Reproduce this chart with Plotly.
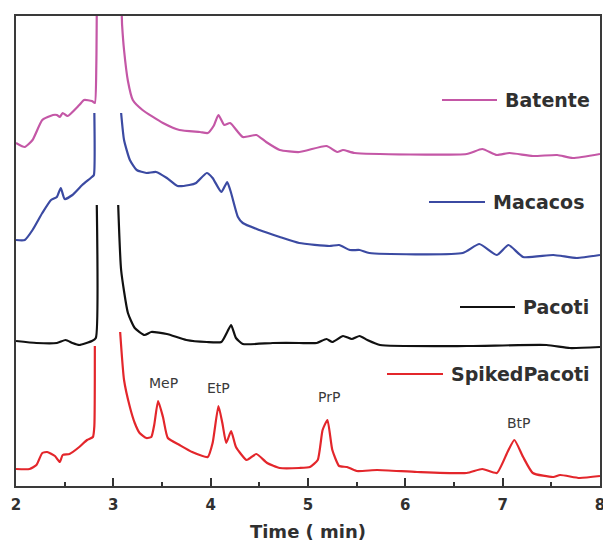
import plotly.graph_objects as go

# ---- data (time in min, detector signal in arbitrary offset units) ----
batente_t = [2.00, 2.09, 2.17, 2.27, 2.38, 2.42, 2.45, 2.48, 2.53, 2.65, 2.70, 2.78, 2.81, 2.825, 2.83,
             None,
             3.07, 3.08, 3.09, 3.11, 3.15, 3.20, 3.30, 3.51, 3.68, 3.89, 3.97, 4.03, 4.08, 4.14, 4.20,
             4.33, 4.47, 4.57, 4.71, 4.91, 5.19, 5.30, 5.36, 5.48, 6.63, 6.79, 6.94, 7.07, 7.31,
             7.56, 7.72, 8.00]
batente_y = [343, 339, 346, 366, 371, 371, 369, 373, 370, 381, 386, 385, 383, 420, 480,
             None,
             480, 480, 461, 436, 405, 386, 376, 363, 356, 354, 353, 360, 371, 361, 363,
             349, 351, 344, 336, 334, 340, 334, 336, 333, 332, 337, 331, 333, 330,
             331, 328, 332]

macacos_t = [2.00, 2.09, 2.17, 2.27, 2.36, 2.42, 2.46, 2.50, 2.58, 2.68, 2.78, 2.80, 2.805,
             None,
             3.08, 3.11, 3.17, 3.24, 3.34, 3.44, 3.55, 3.66, 3.78, 3.85, 3.96, 4.02, 4.11, 4.17,
             4.21, 4.28, 4.33, 4.50, 4.71, 4.91, 5.22, 5.32, 5.43, 5.53, 5.63, 6.59, 6.76, 6.94,
             7.06, 7.21, 7.52, 7.76, 8.00]
macacos_y = [246, 246, 256, 273, 286, 289, 298, 287, 291, 301, 309, 311, 373,
             None,
             373, 346, 326, 316, 313, 314, 308, 300, 301, 303, 313, 308, 294, 304,
             293, 269, 263, 256, 249, 243, 240, 241, 236, 236, 233, 233, 242, 231,
             241, 229, 231, 228, 231]

pacoti_t = [2.00, 2.21, 2.42, 2.51, 2.58, 2.65, 2.78, 2.82, 2.83,
            None,
            3.05, 3.08, 3.15, 3.22, 3.32, 3.39, 3.55, 3.75, 3.96, 4.11, 4.17, 4.21, 4.26, 4.33,
            4.64, 4.91, 5.09, 5.19, 5.25, 5.36, 5.45, 5.53, 5.61, 5.74, 6.63, 7.45, 7.69, 8.00]
pacoti_y = [145, 143, 143, 146, 143, 141, 145, 148, 281,
            None,
            281, 216, 173, 158, 151, 154, 152, 146, 144, 144, 154, 161, 148, 142,
            143, 143, 143, 147, 144, 150, 147, 150, 146, 141, 140, 141, 138, 139]

spiked_t = [2.00, 2.14, 2.21, 2.27, 2.32, 2.40, 2.45, 2.48, 2.55, 2.65, 2.73, 2.79, 2.805, 2.81,
            None,
            3.07, 3.11, 3.17, 3.22, 3.27, 3.34, 3.39, 3.42, 3.46, 3.51, 3.56, 3.68, 3.81, 3.97,
            4.02, 4.08, 4.12, 4.16, 4.21, 4.26, 4.37, 4.47, 4.58, 4.71, 4.91, 5.02, 5.10, 5.15,
            5.20, 5.25, 5.32, 5.40, 5.50, 5.71, 6.12, 6.63, 6.79, 6.94, 7.05, 7.12, 7.21, 7.31,
            7.52, 7.59, 7.79, 8.00]
spiked_y = [17, 17, 21, 33, 34, 30, 24, 31, 32, 39, 46, 49, 60, 140,
            None,
            154, 106, 79, 63, 53, 48, 49, 61, 85, 69, 48, 41, 34, 29,
            43, 80, 63, 43, 55, 39, 26, 32, 23, 18, 18, 19, 26, 56,
            66, 36, 20, 19, 15, 16, 14, 13, 17, 13, 34, 46, 29, 13,
            9, 11, 8, 10]

series_names = ["Batente", "Macacos", "Pacoti", "SpikedPacoti"]
series_colors = ["#c457a6", "#3b4aa2", "#111111", "#e3262b"]

peak_labels = ["MeP", "EtP", "PrP", "BtP"]
peak_label_t = [3.52, 4.08, 5.22, 7.17]
peak_label_y = [103, 98, 89, 63]

x_ticks = [2, 3, 4, 5, 6, 7, 8]

# ---- figure ----
W, H = 603, 542
ML, MR, MT, MB = 16, 3, 16, 56
PW, PH = W - ML - MR, H - MT - MB
FONT_B = "DejaVu Sans"
TXT = "#303030"


def px_to_paper(px, py):
    return (px - ML) / PW, (H - MB - py) / PH


fig = go.Figure()
for t, y, name, col in zip([batente_t, macacos_t, pacoti_t, spiked_t],
                           [batente_y, macacos_y, pacoti_y, spiked_y],
                           series_names, series_colors):
    fig.add_trace(go.Scatter(x=t, y=y, mode="lines", name=name,
                             line=dict(color=col, width=2.2, shape="spline", smoothing=0.5),
                             connectgaps=False, showlegend=False))

# in-plot legend keys (line sample + label) placed beside each trace
legend_pos = [(442, 497, 100), (429, 485, 202), (460, 515, 307), (387, 443, 374)]
shapes = []
annotations = []
for (x0, x1, yy), name, col in zip(legend_pos, series_names, series_colors):
    a0, b0 = px_to_paper(x0, yy)
    a1, _ = px_to_paper(x1, yy)
    shapes.append(dict(type="line", xref="paper", yref="paper", x0=a0, x1=a1, y0=b0, y1=b0,
                       line=dict(color=col, width=2.2)))
    tx, ty = px_to_paper(x1 + 6, yy)
    annotations.append(dict(text=name, xref="paper", yref="paper", x=tx, y=ty,
                            xanchor="left", yanchor="middle", showarrow=False,
                            font=dict(family=FONT_B, size=19, color=TXT, weight="bold")))

for lab, t, y in zip(peak_labels, peak_label_t, peak_label_y):
    annotations.append(dict(text=lab, x=t, y=y, xref="x", yref="y", showarrow=False,
                            xanchor="center", yanchor="middle",
                            font=dict(family=FONT_B, size=14, color="#3a3a3a")))

fig.update_layout(
    width=W, height=H,
    margin=dict(l=ML, r=MR, t=MT, b=MB, autoexpand=False),
    paper_bgcolor="white", plot_bgcolor="white",
    shapes=shapes, annotations=annotations,
    xaxis=dict(range=[2, 8], tickvals=x_ticks, ticktext=[str(v) for v in x_ticks],
               automargin=False, ticklabeloverflow="allow", ticklabelstandoff=4,
               ticks="inside", ticklen=8, tickwidth=2, tickcolor="#333",
               minor=dict(ticks="inside", ticklen=4, tickwidth=2, tickcolor="#333", dtick=0.5),
               showline=True, linecolor="#3a3a3a", linewidth=2, mirror=True,
               showgrid=False, zeroline=False,
               tickfont=dict(family=FONT_B, size=15, color=TXT, weight="bold"),
               title=dict(text="Time ( min)", standoff=12,
                          font=dict(family=FONT_B, size=18, color=TXT, weight="bold"))),
    yaxis=dict(range=[0, 470], showticklabels=False, ticks="", showgrid=False, zeroline=False,
               automargin=False,
               showline=True, linecolor="#3a3a3a", linewidth=2, mirror=True),
)

fig.write_html("out.html")
